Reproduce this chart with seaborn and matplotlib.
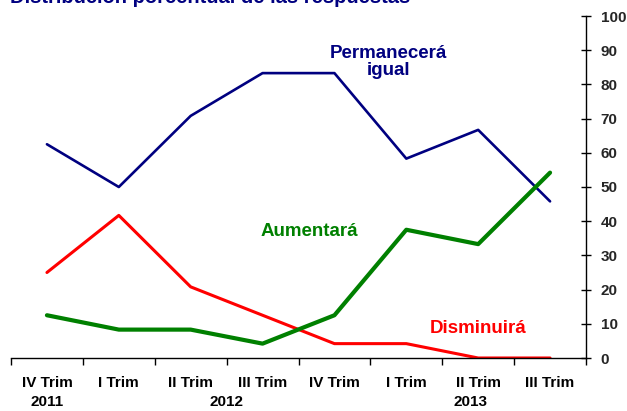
import matplotlib
matplotlib.use("Agg")
import matplotlib.pyplot as plt
import seaborn as sns
import pandas as pd
import numpy as np

quarters = ["IV Trim", "I Trim", "II Trim", "III Trim", "IV Trim", "I Trim", "II Trim", "III Trim"]
years = ["2011", "2012", "2013"]
permanecera = [62.5, 50.0, 70.8, 83.3, 83.3, 58.3, 66.7, 45.8]
aumentara = [12.5, 8.3, 8.3, 4.2, 12.5, 37.5, 33.3, 54.2]
disminuira = [25.0, 41.7, 20.8, 12.5, 4.2, 4.2, 0.0, 0.0]
yticks = [0, 10, 20, 30, 40, 50, 60, 70, 80, 90, 100]

sns.set_theme(style="white")
plt.rcParams['font.family'] = ['Liberation Sans', 'DejaVu Sans']
plt.rcParams['font.weight'] = 'bold'

W, H = 627, 411
fig = plt.figure(figsize=(W / 100, H / 100), dpi=100)
ax = fig.add_axes([11 / W, (H - 358) / H, (586 - 11) / W, (358 - 16) / H])

pos = np.arange(len(quarters))
df = pd.DataFrame({"pos": pos, "Permanecerá igual": permanecera,
                   "Aumentará": aumentara, "Disminuirá": disminuira})

blue = "#000080"
green = "#008000"
red = "#FF0000"

sns.lineplot(data=df, x="pos", y="Permanecerá igual", ax=ax, color=blue, linewidth=1.9)
sns.lineplot(data=df, x="pos", y="Disminuirá", ax=ax, color=red, linewidth=2.2)
sns.lineplot(data=df, x="pos", y="Aumentará", ax=ax, color=green, linewidth=3.0)

ax.set_xlim(-0.5, len(quarters) - 0.5)
ax.set_ylim(0, 100)
ax.set_xlabel("")
ax.set_ylabel("")

ax.set_xticks(pos)
ax.set_xticklabels(quarters, fontsize=11, fontweight='bold')
ax.set_xticks(np.arange(-0.5, len(quarters), 1.0), minor=True)
ax.tick_params(axis='x', which='major', length=0, pad=13, labelcolor='#000000')
ax.tick_params(axis='x', which='minor', length=5, width=1, direction='out', color='black', bottom=True)

ax.yaxis.tick_right()
ax.set_yticks(yticks)
ax.set_yticklabels([str(v) for v in yticks], fontsize=11, fontweight='bold')
ax.tick_params(axis='y', which='major', length=7, width=1, direction='inout', color='black',
               right=True, left=False, pad=7)

for s in ["top", "left"]:
    ax.spines[s].set_visible(False)
for s in ["right", "bottom"]:
    ax.spines[s].set_visible(True)
    ax.spines[s].set_color("black")
    ax.spines[s].set_linewidth(1.0)
ax.grid(False)

# year labels
year_pos = [0, 2.5, 5.9]
for yp, yl in zip(year_pos, years):
    ax.text(yp, -0.13, yl, transform=ax.get_xaxis_transform(), ha='center', va='center',
            fontsize=11, fontweight='bold', color='black', clip_on=False)

# series labels
ax.text(4.75, 86.5, "Permanecerá\nigual", ha='center', va='center', color=blue,
        fontsize=13.5, fontweight='bold', linespacing=1.0)
ax.text(3.65, 37.0, "Aumentará", ha='center', va='center', color=green,
        fontsize=13.5, fontweight='bold')
ax.text(6.0, 8.7, "Disminuirá", ha='center', va='center', color=red,
        fontsize=13.5, fontweight='bold')

# title (partially cut off at top, as in the reference)
fig.text(10 / W, (H - 3) / H, "Distribución porcentual de las respuestas", ha='left',
         va='baseline', color=blue, fontsize=14.5, fontweight='bold')

fig.savefig("out.png", dpi=100)
